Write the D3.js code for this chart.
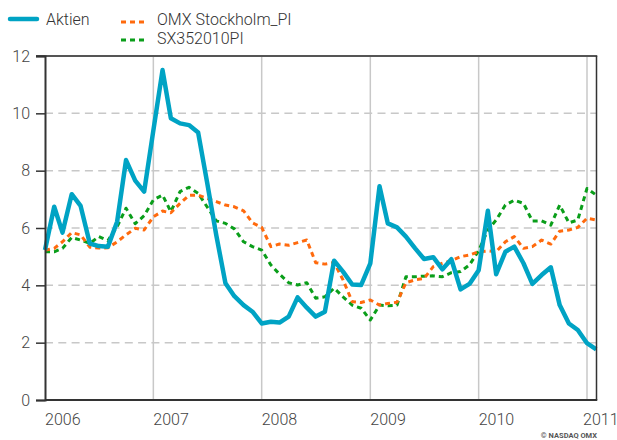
<!DOCTYPE html>
<html>
<head>
<meta charset="utf-8">
<script src="https://cdn.jsdelivr.net/npm/d3@7"></script>
<style>
  body { margin: 0; background: #fff; }
  svg { display: block; font-family: Roboto, "Open Sans", sans-serif; font-weight: 300; }
</style>
</head>
<body>
<svg id="chart" width="617" height="440"></svg>
<script>
// monthly values, Jan 2006 .. Feb 2011
var aktien = [5.23, 6.74, 5.84, 7.18, 6.77, 5.46, 5.37, 5.35, 6.22, 8.37,
  7.65, 7.27, 9.4, 11.51, 9.83, 9.65, 9.59, 9.33, 7.6, 5.75,
  4.07, 3.62, 3.31, 3.08, 2.67, 2.73, 2.70, 2.91, 3.58, 3.22,
  2.91, 3.08, 4.86, 4.48, 4.03, 4.01, 4.77, 7.46, 6.16, 6.02,
  5.70, 5.29, 4.92, 4.98, 4.56, 4.91, 3.86, 4.05, 4.53, 6.60,
  4.39, 5.17, 5.35, 4.77, 4.05, 4.36, 4.63, 3.31, 2.67, 2.44,
  1.98, 1.77];
var omx = [5.23, 5.29, 5.52, 5.84, 5.76, 5.33, 5.30, 5.31, 5.52, 5.76,
  5.99, 5.93, 6.39, 6.59, 6.53, 6.86, 7.14, 7.15, 7.03, 6.92,
  6.80, 6.74, 6.60, 6.18, 6.02, 5.35, 5.44, 5.40, 5.49, 5.58,
  4.79, 4.74, 4.80, 4.19, 3.43, 3.40, 3.49, 3.31, 3.37, 3.41,
  4.09, 4.19, 4.24, 4.65, 4.77, 4.86, 5.00, 5.06, 5.17, 5.20,
  5.17, 5.52, 5.70, 5.29, 5.35, 5.58, 5.44, 5.89, 5.93, 6.02,
  6.34, 6.28];
var sx = [5.17, 5.17, 5.29, 5.67, 5.58, 5.46, 5.70, 5.56, 6.05, 6.69,
  6.15, 6.43, 6.98, 7.15, 6.57, 7.27, 7.42, 7.21, 6.74, 6.25,
  6.16, 5.97, 5.52, 5.35, 5.23, 4.71, 4.39, 4.09, 4.01, 4.09,
  3.55, 3.60, 3.90, 3.60, 3.31, 3.20, 2.79, 3.31, 3.29, 3.31,
  4.30, 4.30, 4.32, 4.33, 4.30, 4.44, 4.48, 4.71, 5.21, 5.93,
  6.28, 6.80, 6.97, 6.86, 6.24, 6.25, 6.10, 6.80, 6.18, 6.28,
  7.38, 7.15];
var yTicks = [0, 2, 4, 6, 8, 10, 12];
var xTickYears = [2006, 2007, 2008, 2009, 2010, 2011];

var series = [
  {name: "Aktien", values: aktien, color: "#00a3c4", width: 4.5, dash: null},
  {name: "OMX Stockholm_PI", values: omx, color: "#ff6a0d", width: 3, dash: "5,4"},
  {name: "SX352010PI", values: sx, color: "#0a9e1a", width: 3, dash: "5,4"}
];

var start = new Date(2006, 0, 1);
var dates = aktien.map(function(d, i) { return d3.timeMonth.offset(start, i); });

var pLeft = 45, pRight = 596.5, pTop = 56, pBottom = 400;

var svg = d3.select("#chart");

var x = d3.scaleTime()
  .domain([new Date(2006, 0, 1), new Date(2011, 0, 1)])
  .range([pLeft, 587]);
var y = d3.scaleLinear().domain([0, 12]).range([pBottom, pTop]);

// grid
svg.append("g").selectAll("line")
  .data(yTicks.filter(function(d) { return d > 0 && d < 12; }))
  .enter().append("line")
  .attr("x1", pLeft).attr("x2", pRight)
  .attr("y1", function(d) { return y(d); }).attr("y2", function(d) { return y(d); })
  .attr("stroke", "#c8c8c8").attr("stroke-width", 1.5)
  .attr("stroke-dasharray", "8,5.3");

svg.append("g").selectAll("line")
  .data(xTickYears.slice(1))
  .enter().append("line")
  .attr("x1", function(d) { return x(new Date(d, 0, 1)); })
  .attr("x2", function(d) { return x(new Date(d, 0, 1)); })
  .attr("y1", pTop).attr("y2", pBottom)
  .attr("stroke", "#c8c8c8").attr("stroke-width", 1.5);

// lines
var line = d3.line()
  .x(function(d, i) { return x(dates[i]); })
  .y(function(d) { return y(d); });

svg.append("g").selectAll("path")
  .data(series.slice().reverse())
  .enter().append("path")
  .attr("d", function(s) { return line(s.values); })
  .attr("fill", "none")
  .attr("stroke", function(s) { return s.color; })
  .attr("stroke-width", function(s) { return s.width; })
  .attr("stroke-dasharray", function(s) { return s.dash; })
  .attr("stroke-linejoin", "round");

// frame
svg.append("line").attr("x1", 36).attr("x2", pRight + 0.75)
  .attr("y1", pTop).attr("y2", pTop).attr("stroke", "#555").attr("stroke-width", 2);
svg.append("line").attr("x1", pLeft).attr("x2", pRight + 0.75)
  .attr("y1", pBottom).attr("y2", pBottom).attr("stroke", "#333").attr("stroke-width", 2);
svg.append("line").attr("x1", pRight).attr("x2", pRight)
  .attr("y1", pTop).attr("y2", pBottom).attr("stroke", "#333").attr("stroke-width", 1.5);

// y axis
var yAxis = svg.append("g")
  .attr("transform", "translate(" + pLeft + ",0)")
  .call(d3.axisLeft(y).tickValues(yTicks).tickSize(9).tickPadding(6));
yAxis.select(".domain").attr("stroke", "#333").attr("stroke-width", 2);
yAxis.selectAll(".tick line").attr("stroke", "#333").attr("stroke-width", 1.5);
yAxis.selectAll(".tick text")
  .attr("fill", "#444").style("font-size", "16px")
  .style("font-family", "Roboto").style("font-weight", "300");

// x labels
svg.append("g").selectAll("text")
  .data(xTickYears)
  .enter().append("text")
  .attr("x", function(d) { return Math.min(x(new Date(d, 0, 1)), 583); })
  .attr("y", 425)
  .attr("fill", "#444")
  .style("font-size", "16px")
  .text(function(d) { return d; });

// legend
var legend = [
  {s: series[0], lx: 10, ly: 19, tx: 46, ty: 25},
  {s: series[1], lx: 121, ly: 22, tx: 157, ty: 25},
  {s: series[2], lx: 121, ly: 40, tx: 157, ty: 44}
];
var lg = svg.append("g").selectAll("g").data(legend).enter().append("g");
lg.append("line")
  .attr("x1", function(d) { return d.lx; })
  .attr("x2", function(d) { return d.lx + 27; })
  .attr("y1", function(d) { return d.ly; })
  .attr("y2", function(d) { return d.ly; })
  .attr("stroke", function(d) { return d.s.color; })
  .attr("stroke-width", function(d) { return d.s.width; })
  .attr("stroke-linecap", function(d) { return d.s.dash ? "butt" : "round"; })
  .attr("stroke-dasharray", function(d) { return d.s.dash; });
lg.append("text")
  .attr("x", function(d) { return d.tx; })
  .attr("y", function(d) { return d.ty; })
  .attr("fill", "#333")
  .style("font-size", "16px")
  .text(function(d) { return d.s.name; });

svg.append("text")
  .attr("x", 597).attr("y", 438)
  .attr("text-anchor", "end")
  .attr("fill", "#555")
  .style("font-size", "7.5px").style("font-weight", "bold")
  .text("© NASDAQ OMX");
</script>
</body>
</html>
